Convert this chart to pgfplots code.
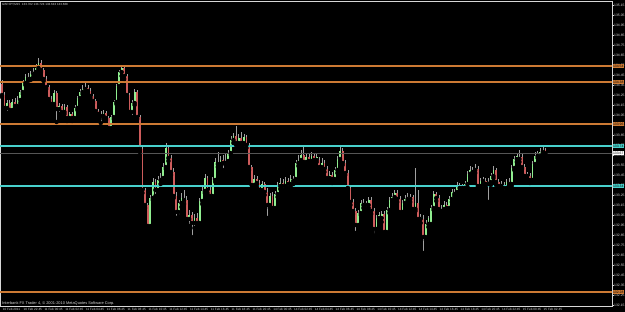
\documentclass[border=0pt]{standalone}
\usepackage{fontspec}
\setmainfont{Liberation Sans}
\usepackage{pgfplots}
\pgfplotsset{compat=1.18}
\usepackage{pgfplotstable}
\definecolor{bullC}{RGB}{144,238,144}
\definecolor{bearC}{RGB}{205,92,92}
\definecolor{wickC}{RGB}{160,160,160}
\definecolor{orgC}{RGB}{205,122,52}
\definecolor{cyC}{RGB}{72,209,204}
\definecolor{curC}{RGB}{85,85,85}
\definecolor{axC}{RGB}{215,215,215}

\pgfplotstableread{
j o h l c
2 134.12 134.20 134.07 134.17
4 134.10 134.21 134.08 134.18
6 134.14 134.24 134.12 134.20
7 134.20 134.30 134.17 134.28
8 134.28 134.40 134.26 134.37
9 134.37 134.46 134.35 134.43
11 134.41 134.49 134.40 134.46
12 134.46 134.52 134.43 134.48
13 134.48 134.56 134.46 134.52
14 134.52 134.62 134.50 134.57
20 134.16 134.30 134.14 134.27
22 134.11 134.17 134.06 134.14
24 134.08 134.16 134.06 134.13
26 134.02 134.08 134.00 134.06
28 134.02 134.15 134.01 134.12
29 134.12 134.24 134.10 134.22
30 134.22 134.31 134.20 134.28
31 134.28 134.35 134.26 134.31
32 134.31 134.38 134.28 134.32
39 134.04 134.10 134.01 134.07
42 133.92 134.05 133.90 134.03
43 134.03 134.20 134.01 134.18
44 134.18 134.36 134.16 134.34
45 134.34 134.50 134.32 134.48
46 134.48 134.55 134.44 134.52
50 134.08 134.20 134.03 134.17
51 134.17 134.31 134.15 134.28
57 132.94 133.25 132.92 133.22
58 133.22 133.42 133.20 133.38
60 133.30 133.44 133.27 133.40
61 133.40 133.47 133.36 133.42
62 133.42 133.57 133.39 133.53
63 133.53 133.77 133.51 133.72
68 133.08 133.20 133.04 133.17
69 133.17 133.27 133.13 133.22
72 133.01 133.10 132.94 133.05
74 132.97 133.06 132.92 133.02
76 132.97 133.22 132.95 133.19
77 133.19 133.33 133.16 133.29
78 133.29 133.46 133.27 133.42
81 133.24 133.43 133.20 133.40
82 133.40 133.62 133.38 133.58
84 133.56 133.64 133.53 133.60
86 133.57 133.67 133.55 133.59
87 133.59 133.70 133.57 133.67
88 133.67 133.84 133.65 133.80
89 133.80 133.87 133.77 133.84
91 133.77 133.86 133.74 133.82
93 133.77 133.86 133.75 133.83
97 133.35 133.45 133.32 133.41
100 133.30 133.39 133.27 133.36
103 133.15 133.27 133.12 133.24
105 133.12 133.29 133.09 133.26
106 133.26 133.38 133.23 133.34
107 133.34 133.42 133.31 133.37
109 133.34 133.43 133.31 133.39
111 133.36 133.45 133.33 133.41
113 133.41 133.60 133.38 133.57
114 133.57 133.65 133.54 133.60
115 133.60 133.70 133.57 133.65
117 133.58 133.67 133.55 133.63
119 133.59 133.68 133.57 133.64
121 133.60 133.66 133.58 133.63
123 133.53 133.62 133.50 133.57
126 133.42 133.49 133.38 133.45
128 133.41 133.53 133.38 133.50
129 133.50 133.64 133.47 133.61
130 133.61 133.74 133.58 133.69
137 132.95 133.10 132.91 133.07
138 133.07 133.20 133.05 133.17
140 133.15 133.19 133.11 133.17
141 133.15 133.23 133.12 133.20
144 132.91 133.05 132.88 133.02
145 133.02 133.08 132.99 133.05
146 133.02 133.09 132.98 133.06
148 132.88 133.13 132.86 133.10
149 133.10 133.23 133.07 133.20
150 133.20 133.27 133.17 133.23
151 133.23 133.30 133.20 133.27
154 133.08 133.20 133.05 133.17
155 133.17 133.25 133.14 133.21
156 133.21 133.27 133.19 133.23
159 133.11 133.52 133.09 133.17
161 133.01 133.06 132.97 133.03
163 132.83 133.00 132.80 132.96
164 132.96 133.04 132.93 133.02
165 132.96 133.15 132.93 133.12
166 133.12 133.29 133.10 133.26
170 133.11 133.19 133.08 133.15
172 133.12 133.24 133.09 133.21
173 133.21 133.31 133.18 133.28
175 133.28 133.38 133.26 133.35
177 133.32 133.36 133.29 133.34
178 133.32 133.39 133.30 133.36
179 133.36 133.49 133.33 133.46
180 133.46 133.54 133.44 133.50
182 133.50 133.56 133.47 133.51
184 133.34 133.42 133.31 133.39
185 133.39 133.43 133.35 133.40
187 133.36 133.42 133.18 133.38
188 133.38 133.47 133.35 133.44
189 133.44 133.54 133.42 133.50
192 133.34 133.39 133.30 133.35
194 133.32 133.41 133.29 133.38
196 133.36 133.55 133.34 133.52
197 133.52 133.64 133.50 133.61
198 133.61 133.66 133.58 133.64
199 133.61 133.70 133.58 133.63
202 133.44 133.48 133.40 133.45
204 133.40 133.59 133.38 133.56
205 133.56 133.68 133.54 133.64
206 133.64 133.69 133.62 133.66
207 133.64 133.72 133.62 133.68
208 133.68 133.74 133.66 133.702
}\bull

\pgfplotstableread{
j o h l c
0 134.36 134.40 134.23 134.25
1 134.25 134.28 134.08 134.12
3 134.17 134.20 134.06 134.10
5 134.18 134.22 134.10 134.14
10 134.43 134.47 134.39 134.41
15 134.57 134.60 134.48 134.50
16 134.50 134.52 134.39 134.41
17 134.41 134.44 134.31 134.33
18 134.33 134.35 134.19 134.21
19 134.21 134.24 134.14 134.16
21 134.27 134.29 133.98 134.11
23 134.14 134.16 134.04 134.08
25 134.13 134.15 133.99 134.02
27 134.06 134.08 133.99 134.02
33 134.32 134.35 134.27 134.29
34 134.29 134.32 134.22 134.24
35 134.24 134.26 134.17 134.19
36 134.19 134.21 134.07 134.09
37 134.09 134.11 134.02 134.06
38 134.06 134.09 133.97 134.04
40 134.07 134.09 134.00 134.02
41 134.02 134.04 133.88 133.92
47 134.52 134.54 134.41 134.44
48 134.44 134.46 134.22 134.25
49 134.25 134.27 134.04 134.08
52 134.28 134.30 134.01 134.03
53 134.03 134.05 133.68 133.71
54 133.71 133.73 133.27 133.30
55 133.30 133.32 133.12 133.15
56 133.15 133.17 132.91 132.94
59 133.38 133.41 133.24 133.30
64 133.72 133.74 133.59 133.62
65 133.62 133.65 133.45 133.48
66 133.48 133.52 133.22 133.24
67 133.24 133.28 133.02 133.08
70 133.22 133.30 133.16 133.20
71 133.20 133.24 132.98 133.01
73 133.05 133.08 132.83 132.97
75 133.02 133.07 132.94 132.97
79 133.42 133.44 133.27 133.30
80 133.30 133.34 133.21 133.24
83 133.58 133.68 133.53 133.56
85 133.60 133.65 133.50 133.57
90 133.84 133.94 133.75 133.77
92 133.82 133.88 133.74 133.77
94 133.83 133.85 133.72 133.75
95 133.75 133.77 133.50 133.53
96 133.53 133.55 133.32 133.35
98 133.41 133.44 133.34 133.37
99 133.37 133.40 133.26 133.30
101 133.36 133.38 133.25 133.28
102 133.28 133.32 133.02 133.15
104 133.24 133.28 133.08 133.12
108 133.37 133.41 133.30 133.34
110 133.39 133.42 133.32 133.36
112 133.41 133.44 133.36 133.39
116 133.65 133.75 133.56 133.58
118 133.63 133.67 133.56 133.59
120 133.64 133.67 133.57 133.60
122 133.60 133.63 133.50 133.53
124 133.57 133.60 133.48 133.51
125 133.51 133.54 133.39 133.42
127 133.45 133.48 133.37 133.41
131 133.69 133.72 133.55 133.57
132 133.57 133.60 133.45 133.47
133 133.47 133.50 133.30 133.32
134 133.32 133.35 133.15 133.18
135 133.18 133.21 133.06 133.09
136 133.09 133.12 132.87 132.95
139 133.17 133.21 133.12 133.15
142 133.20 133.23 133.06 133.09
143 133.09 133.12 132.85 132.91
147 133.06 133.09 132.85 132.88
152 133.27 133.30 133.18 133.21
153 133.21 133.24 133.05 133.08
157 133.23 133.26 133.18 133.21
158 133.23 133.25 133.09 133.11
160 133.17 133.30 132.98 133.01
162 133.01 133.05 132.67 132.83
167 133.26 133.28 133.19 133.22
168 133.22 133.25 133.08 133.11
169 133.11 133.15 133.06 133.09
171 133.15 133.18 133.09 133.12
174 133.28 133.31 133.24 133.26
176 133.35 133.37 133.29 133.32
181 133.50 133.53 133.46 133.48
183 133.51 133.54 133.31 133.34
186 133.39 133.42 133.33 133.36
190 133.50 133.52 133.35 133.38
191 133.38 133.41 133.31 133.34
193 133.35 133.38 133.28 133.32
195 133.38 133.42 133.34 133.36
200 133.63 133.67 133.51 133.53
201 133.53 133.56 133.42 133.44
203 133.44 133.47 133.37 133.40
209 133.702 133.724 133.643 133.668
}\bear

\begin{document}
\begin{tikzpicture}[x=1pt,y=1pt]
\path[use as bounding box, fill=black] (0,0) rectangle (625,312);
\begin{axis}[
  at={(0pt,6pt)}, anchor=south west,
  scale only axis, width=612pt, height=305pt,
  xmin=-0.769, xmax=234.6, ymin=132.14, ymax=135.19,
  axis line style={axC, line width=0.6pt},
  /pgf/number format/assume math mode=true,
  ytick={132.15,132.25,132.35,132.45,132.55,132.65,132.75,132.85,132.95,133.05,133.15,133.25,133.35,133.45,133.55,133.65,133.75,133.85,133.95,134.05,134.15,134.25,134.35,134.45,134.55,134.65,134.75,134.85,134.95,135.05,135.15},
  ytick pos=right, yticklabel pos=right,
  scaled y ticks=false,
  yticklabel style={font=\fontsize{3.4}{3.8}\selectfont, text=axC, anchor=west, inner sep=0.5pt,
    /pgf/number format/.cd, fixed, fixed zerofill, precision=2, 1000 sep={}},
  xtick={0,8,...,208},
  xticklabels={10 Feb 2011,10 Feb 22:45,11 Feb 00:45,11 Feb 02:45,11 Feb 04:45,11 Feb 06:45,11 Feb 08:45,11 Feb 10:45,11 Feb 12:45,11 Feb 14:45,11 Feb 16:45,11 Feb 18:45,11 Feb 20:45,14 Feb 00:45,14 Feb 02:45,14 Feb 04:45,14 Feb 06:45,14 Feb 08:45,14 Feb 10:45,14 Feb 12:45,14 Feb 14:45,14 Feb 16:45,14 Feb 18:45,14 Feb 20:45,14 Feb 22:45,15 Feb 00:45,15 Feb 02:45},
  xtick pos=bottom,
  xticklabel style={font=\fontsize{3.1}{3.5}\selectfont, text=axC, anchor=north west, inner sep=0.4pt, xshift=0.3pt},
  tick align=outside, major tick length=1.5pt,
  tick style={axC, line width=0.4pt},
]
% wicks
\addplot[only marks, mark=none, error bars/.cd, y dir=plus, y explicit, error mark=none,
  error bar style={draw=wickC, line width=0.6pt, solid}]
  table[x=j, y=l, y error plus expr=\thisrow{h}-\thisrow{l}] {\bull};
\addplot[only marks, mark=none, error bars/.cd, y dir=plus, y explicit, error mark=none,
  error bar style={draw=wickC, line width=0.6pt, solid}]
  table[x=j, y=l, y error plus expr=\thisrow{h}-\thisrow{l}] {\bear};
% bodies
\addplot[only marks, mark=none, error bars/.cd, y dir=plus, y explicit, error mark=none,
  error bar style={draw=bullC, line width=1.8pt, solid}]
  table[x=j, y=o, y error plus expr=\thisrow{c}-\thisrow{o}] {\bull};
\addplot[only marks, mark=none, error bars/.cd, y dir=plus, y explicit, error mark=none,
  error bar style={draw=bearC, line width=1.8pt, solid}]
  table[x=j, y=c, y error plus expr=\thisrow{o}-\thisrow{c}] {\bear};
% horizontal levels
\addplot[draw=curC, line width=0.6pt] coordinates {(-1,133.668) (236,133.668)};
\addplot[draw=orgC, line width=1.3pt] coordinates {(-1,134.54) (236,134.54)};
\addplot[draw=orgC, line width=1.3pt] coordinates {(-1,134.38) (236,134.38)};
\addplot[draw=orgC, line width=1.3pt] coordinates {(-1,133.96) (236,133.96)};
\addplot[draw=orgC, line width=1.3pt] coordinates {(-1,132.28) (236,132.28)};
\addplot[draw=cyC, line width=1.3pt] coordinates {(-1,133.74) (236,133.74)};
\addplot[draw=cyC, line width=1.3pt] coordinates {(-1,133.34) (236,133.34)};
\coordinate (L1) at (axis cs:234.6,134.54);
\coordinate (L2) at (axis cs:234.6,134.38);
\coordinate (L3) at (axis cs:234.6,133.96);
\coordinate (L4) at (axis cs:234.6,132.28);
\coordinate (L5) at (axis cs:234.6,133.74);
\coordinate (L6) at (axis cs:234.6,133.34);
\coordinate (L7) at (axis cs:234.6,133.668);
\coordinate (TL) at (rel axis cs:0,1);
\coordinate (BL) at (rel axis cs:0,0);
\end{axis}
\tikzset{pl/.style={anchor=west, inner sep=0.5pt, font=\fontsize{3.4}{3.8}\selectfont, text=black, xshift=0.3pt}}
\node[pl, fill=orgC] at (L1) {134.54};
\node[pl, fill=orgC] at (L2) {134.38};
\node[pl, fill=orgC] at (L3) {133.96};
\node[pl, fill=orgC] at (L4) {132.28};
\node[pl, fill=cyC] at (L5) {133.74};
\node[pl, fill=cyC] at (L6) {133.34};
\node[pl, fill=white] at (L7) {133.67};
\node[anchor=north west, inner sep=0pt, text=axC, font=\fontsize{3}{3.4}\selectfont] at ([shift={(2pt,-2.6pt)}]TL) {GBPJPY,M15\ \ 133.702 133.724 133.643 133.668};
\node[anchor=south west, inner sep=0pt, text=axC, font=\fontsize{3.9}{4.3}\selectfont] at ([shift={(2pt,0.6pt)}]BL) {Interbank FX Trader 4, © 2001-2010 MetaQuotes Software Corp.};
\end{tikzpicture}
\end{document}
